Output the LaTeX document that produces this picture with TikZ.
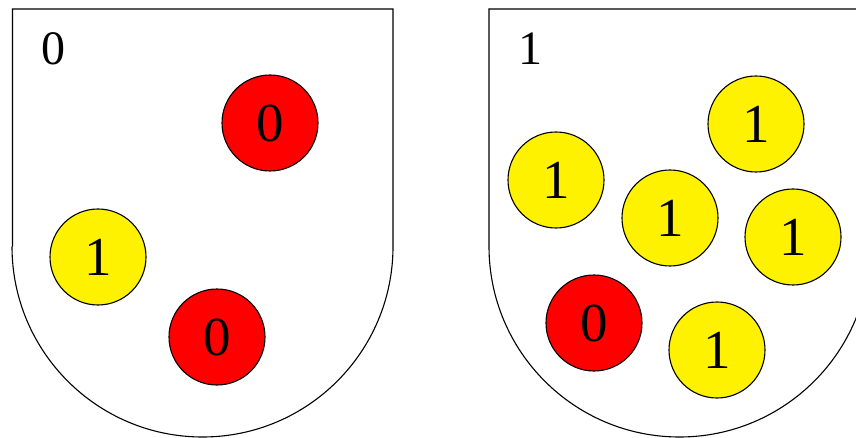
\documentclass[tikz,border=0pt]{standalone}
\usepackage{fontspec}
\setmainfont{Liberation Serif}
\begin{document}
\begin{tikzpicture}[x=1pt,y=-1pt,
 ball/.style={circle,draw=black,line width=1.1pt,minimum size=96pt,inner sep=0pt,font=\fontsize{55}{55}\selectfont},
 redball/.style={ball,fill=red},
 yelball/.style={ball,fill=yellow},
 urn/.style={draw=black,line width=1.1pt},
 lab/.style={font=\fontsize{48}{48}\selectfont,inner sep=0pt}]
\useasboundingbox (0,0) rectangle (856,438);
\clip (0,0) rectangle (856,438);
\draw[urn] (12.5,246.5) -- (12.5,9) -- (393,9) -- (393,246.5) arc[start angle=0,end angle=180,radius=190.5];
\draw[urn] (489,246.5) -- (489,9) -- (870,9) -- (870,246.5) arc[start angle=0,end angle=180,radius=190.5];
\node[lab] (l0) at (53,49) {0};
\node[lab] (l1) at (530,49) {1};
\node[redball] (a1) at (270,123) {0};
\node[yelball] (a2) at (98,257) {1};
\node[redball] (a3) at (217,337) {0};
\node[yelball] (b1) at (756,124) {1};
\node[yelball] (b2) at (556,180) {1};
\node[yelball] (b3) at (670,218) {1};
\node[yelball] (b4) at (793,237) {1};
\node[redball] (b5) at (594,323) {0};
\node[yelball] (b6) at (717,350) {1};
\end{tikzpicture}
\end{document}
